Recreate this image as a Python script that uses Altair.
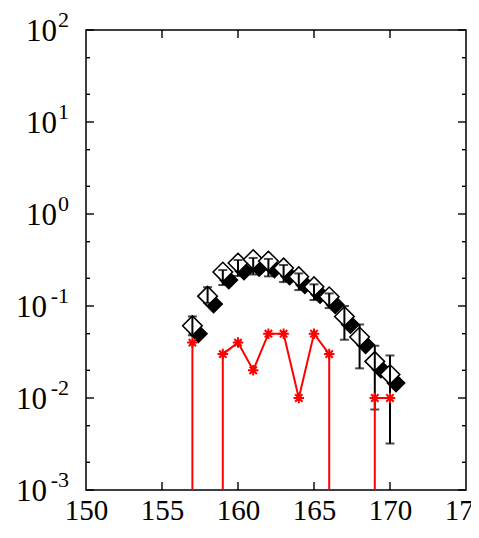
import altair as alt
import pandas as pd

# ---- data ----
x_vals = [157, 158, 159, 160, 161, 162, 163, 164, 165, 166, 167, 168, 169, 170]
open_vals = [0.061, 0.128, 0.234, 0.293, 0.320, 0.308, 0.259, 0.208, 0.162, 0.126, 0.077, 0.046, 0.025, 0.018]
filled_vals = [0.050, 0.105, 0.192, 0.240, 0.262, 0.252, 0.212, 0.170, 0.133, 0.103, 0.063, 0.038, 0.0206, 0.0146]
err_hi = [0.077, 0.160, 0.246, 0.316, 0.333, 0.325, 0.279, 0.226, 0.172, 0.137, 0.100, 0.063, 0.037, 0.029]
err_lo = [0.048, 0.108, 0.169, 0.212, 0.220, 0.210, 0.182, 0.149, 0.116, 0.095, 0.043, 0.021, 0.0075, 0.0032]
red_vals = [0.04, 0, 0.03, 0.04, 0.02, 0.05, 0.05, 0.01, 0.05, 0.03, 0, 0, 0.01, 0.01]

x_ticks = [150, 155, 160, 165, 170, 175]
x_inner_ticks = [155, 160, 165, 170]
y_major = [1e-3, 1e-2, 1e-1, 1, 10, 100]
y_exps = ["-3", "-2", "-1", "0", "1", "2"]
y_minor_mult = [2, 5]

# ---- tables ----
main = pd.DataFrame({"x": x_vals, "open": open_vals, "filled": filled_vals,
                     "hi": err_hi, "lo": err_lo})

rows = []
seg = 0
prev_zero = True
for i, (xv, rv) in enumerate(zip(x_vals, red_vals)):
    if rv == 0:
        prev_zero = True
        continue
    if prev_zero:
        seg += 1
    prev_zero = False
    left_zero = i > 0 and red_vals[i - 1] == 0
    right_zero = i < len(red_vals) - 1 and red_vals[i + 1] == 0
    rows.append({"x": xv, "v": rv, "seg": seg, "drop": left_zero or right_zero})
red = pd.DataFrame(rows)
red_drop = red[red["drop"]]

ymaj = pd.DataFrame({"v": y_major, "e": y_exps})
ymin = pd.DataFrame({"v": [m * d for d in y_major[:-1] for m in y_minor_mult]})
xt = pd.DataFrame({"x": x_inner_ticks})

W, H = 380, 460
FONT = "Liberation Serif"

xs = alt.Scale(domain=[150, 175], nice=False, zero=False)
ys = alt.Scale(type="log", domain=[1e-3, 1e2], nice=False)

X = alt.X("x:Q", scale=xs,
          axis=alt.Axis(values=x_ticks, ticks=False, domain=False, grid=False,
                        labelFont=FONT, labelFontSize=29, labelColor="black",
                        labelPadding=6, title=None, format="d",
                        labelFlush=False, labelOverlap=False))

base = alt.Chart(main)

filled = base.mark_point(shape="diamond", filled=True, color="black", size=380,
                         opacity=1, xOffset=6).encode(
    x=X, y=alt.Y("filled:Q", scale=ys, axis=None))
opened = base.mark_point(shape="diamond", filled=True, fill="white", stroke="black",
                         strokeWidth=1.6, size=380, opacity=1).encode(
    x=alt.X("x:Q", scale=xs), y=alt.Y("open:Q", scale=ys))
ebar = base.mark_rule(color="black", strokeWidth=2).encode(
    x=alt.X("x:Q", scale=xs), y=alt.Y("lo:Q", scale=ys), y2="hi:Q")
cap_hi = base.mark_tick(orient="horizontal", color="black", size=9, thickness=2).encode(
    x=alt.X("x:Q", scale=xs), y=alt.Y("hi:Q", scale=ys))
cap_lo = base.mark_tick(orient="horizontal", color="black", size=9, thickness=2).encode(
    x=alt.X("x:Q", scale=xs), y=alt.Y("lo:Q", scale=ys))

rbase = alt.Chart(red)
rline = rbase.mark_line(color="#ff0000", strokeWidth=2).encode(
    x=alt.X("x:Q", scale=xs), y=alt.Y("v:Q", scale=ys), detail="seg:N")
rdrop = alt.Chart(red_drop).mark_rule(color="#ff0000", strokeWidth=2).encode(
    x=alt.X("x:Q", scale=xs), y=alt.Y("v:Q", scale=ys), y2=alt.value(H))
star = "M-1,0L1,0M0,-1L0,1M-0.7,-0.7L0.7,0.7M-0.7,0.7L0.7,-0.7"
rpts = rbase.mark_point(shape=star, filled=False, color="#ff0000", strokeWidth=2,
                        size=110, opacity=1).encode(
    x=alt.X("x:Q", scale=xs), y=alt.Y("v:Q", scale=ys))

# inward ticks
tb = alt.Chart(xt).mark_rule(color="black", strokeWidth=1.4).encode(
    x=alt.X("x:Q", scale=xs), y=alt.value(H), y2=alt.value(H - 8))
tt = alt.Chart(xt).mark_rule(color="black", strokeWidth=1.4).encode(
    x=alt.X("x:Q", scale=xs), y=alt.value(0), y2=alt.value(8))
tl = alt.Chart(ymaj).mark_rule(color="black", strokeWidth=1.4).encode(
    y=alt.Y("v:Q", scale=ys), x=alt.value(0), x2=alt.value(8))
tr = alt.Chart(ymaj).mark_rule(color="black", strokeWidth=1.4).encode(
    y=alt.Y("v:Q", scale=ys), x=alt.value(W), x2=alt.value(W - 8))
tlm = alt.Chart(ymin).mark_rule(color="black", strokeWidth=1.4).encode(
    y=alt.Y("v:Q", scale=ys), x=alt.value(0), x2=alt.value(4))
trm = alt.Chart(ymin).mark_rule(color="black", strokeWidth=1.4).encode(
    y=alt.Y("v:Q", scale=ys), x=alt.value(W), x2=alt.value(W - 4))

# y labels 10^n
ylab = alt.Chart(ymaj)
exp_txt = ylab.mark_text(align="right", baseline="middle", font=FONT, fontSize=22,
                         color="black", dy=-10).encode(
    y=alt.Y("v:Q", scale=ys), x=alt.value(-17), text="e:N")
ten_pos = ylab.transform_filter("indexof(datum.e, '-') < 0").mark_text(
    align="right", baseline="middle", font=FONT, fontSize=31, color="black", dy=2).encode(
    y=alt.Y("v:Q", scale=ys), x=alt.value(-29), text=alt.value("10"))
ten_neg = ylab.transform_filter("indexof(datum.e, '-') >= 0").mark_text(
    align="right", baseline="middle", font=FONT, fontSize=31, color="black", dy=2).encode(
    y=alt.Y("v:Q", scale=ys), x=alt.value(-39), text=alt.value("10"))

chart = alt.layer(
    filled, opened, ebar, cap_hi, cap_lo, rline, rdrop, rpts,
    tb, tt, tl, tr, tlm, trm, exp_txt, ten_pos, ten_neg
).properties(
    width=W, height=H,
    padding={"left": 78, "top": 22, "right": 5, "bottom": 40},
    autosize=alt.AutoSizeParams(type="none"),
).configure_view(stroke="black", strokeWidth=1.5)

chart.save("out.html", embed_options={"renderer": "svg", "actions": False})
